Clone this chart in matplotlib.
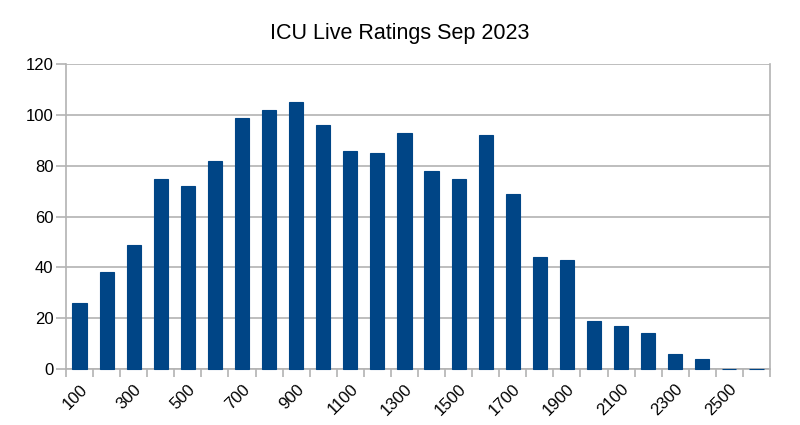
import numpy as np
import matplotlib.pyplot as plt
from matplotlib.ticker import FixedLocator

plt.rcParams['font.family'] = ['Liberation Sans', 'DejaVu Sans']

ratings = list(range(100, 2700, 100))
counts = [26, 38, 49, 75, 72, 82, 99, 102, 105, 96, 86, 85, 93,
          78, 75, 92, 69, 44, 43, 19, 17, 14, 6, 4, 0, 0]
shown_labels = [str(r) if (r // 100) % 2 == 1 else '' for r in ratings]

bar_color = '#004586'
grid_color = '#b3b3b3'

fig = plt.figure(figsize=(8, 4.25), dpi=100)
ax = fig.add_axes([0.0825, 0.1318, 0.88, 0.717])

x = np.arange(len(ratings))
ax.bar(x, counts, width=0.52, color=bar_color, edgecolor=bar_color,
       linewidth=0.8, zorder=3, clip_on=False)

ax.set_xlim(-0.5, len(ratings) - 0.5)
ax.set_ylim(0, 120)
ax.set_yticks(np.arange(0, 121, 20))
ax.yaxis.grid(True, color=grid_color, linewidth=1.2, zorder=0)

ax.set_xticks(x)
ax.set_xticklabels(shown_labels, rotation=45, ha='right',
                   rotation_mode='anchor', fontsize=12)
ax.xaxis.set_minor_locator(FixedLocator(np.arange(-0.5, len(ratings), 1.0)))
ax.tick_params(axis='x', which='major', length=0, pad=9)
ax.tick_params(axis='x', which='minor', length=6, width=1.2, color=grid_color)
ax.tick_params(axis='y', length=7, width=1.2, color=grid_color,
               labelsize=12, pad=2)

for side in ['left', 'right', 'bottom', 'top']:
    ax.spines[side].set_color(grid_color)
    ax.spines[side].set_linewidth(1.2)
ax.spines['top'].set_visible(False)

fig.suptitle('ICU Live Ratings Sep 2023', y=0.945, fontsize=15.5)

fig.savefig('out.png', dpi=100)
